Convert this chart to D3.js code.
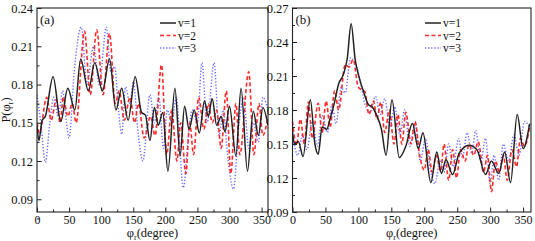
<!DOCTYPE html>
<html>
<head>
<meta charset="utf-8">
<script src="https://cdn.jsdelivr.net/npm/d3@7"></script>
<style>
  html, body { margin: 0; padding: 0; background: #fff; }
  svg { display: block; }
  svg text { font-family: "Liberation Serif", "Times New Roman", serif; fill: #111; }
</style>
</head>
<body>
<div id="chart"></div>
<script>
// panel (a): [angle, P]
const a_v1 = [[0,0.148],[3,0.136],[8,0.152],[13,0.155],[25,0.186],[37,0.151],[48,0.177],[59,0.160],[68,0.200],[80,0.175],[90,0.197],[102,0.175],[113,0.200],[123,0.160],[132,0.177],[142,0.152],[153,0.186],[163,0.158],[169,0.156],[176,0.136],[183,0.162],[189,0.148],[196,0.158],[204,0.112],[215,0.177],[223,0.124],[230,0.163],[237,0.145],[245,0.160],[253,0.142],[261,0.167],[267,0.155],[273,0.169],[280,0.148],[287,0.155],[293,0.143],[300,0.163],[310,0.124],[318,0.177],[328,0.112],[337,0.159],[345,0.140],[352,0.162],[360,0.148]];
const a_v2 = [[0,0.150],[4,0.142],[15,0.170],[22,0.152],[30,0.168],[36,0.150],[41,0.170],[48,0.155],[55,0.165],[61,0.150],[74,0.222],[83,0.172],[93,0.223],[103,0.172],[113,0.220],[122,0.165],[128,0.175],[136,0.152],[145,0.170],[152,0.150],[158,0.165],[167,0.138],[177,0.155],[184,0.140],[194,0.1955],[202,0.125],[210,0.160],[218,0.120],[224,0.150],[232,0.110],[238,0.150],[244,0.125],[252,0.170],[260,0.145],[267,0.165],[273,0.150],[280,0.160],[287,0.130],[295,0.175],[302,0.110],[310,0.165],[316,0.125],[330,0.190],[338,0.125],[346,0.165],[352,0.140],[360,0.155]];
const a_v3 = [[0,0.172],[6,0.150],[13,0.119],[20,0.150],[26,0.170],[33,0.155],[40,0.175],[46,0.150],[50,0.138],[58,0.190],[69,0.225],[78,0.180],[88,0.210],[97,0.180],[108,0.225],[115,0.190],[121,0.194],[127,0.160],[132,0.141],[138,0.178],[145,0.165],[150,0.182],[158,0.140],[165,0.120],[176,0.172],[183,0.150],[190,0.170],[197,0.130],[203,0.160],[210,0.150],[217,0.170],[228,0.099],[236,0.140],[242,0.160],[250,0.150],[257,0.197],[265,0.150],[276,0.197],[284,0.140],[290,0.160],[298,0.120],[306,0.098],[315,0.150],[322,0.170],[330,0.130],[337,0.150],[345,0.135],[352,0.170],[360,0.160]];

// panel (b)
const b_v1 = [[0,0.160],[3,0.150],[9,0.152],[16,0.139],[27,0.189],[34,0.150],[39,0.141],[45,0.165],[52,0.163],[57,0.172],[63,0.185],[70,0.203],[77,0.211],[83,0.225],[89,0.256],[95,0.225],[101,0.209],[108,0.196],[115,0.185],[122,0.182],[128,0.175],[135,0.163],[142,0.140],[151,0.189],[162,0.138],[172,0.148],[182,0.168],[191,0.146],[198,0.160],[210,0.116],[219,0.143],[226,0.124],[233,0.136],[243,0.123],[253,0.142],[268,0.149],[280,0.145],[293,0.123],[302,0.135],[313,0.124],[322,0.143],[331,0.116],[341,0.176],[350,0.146],[360,0.168]];
const b_v2 = [[0,0.170],[6,0.149],[12,0.172],[18,0.150],[24,0.187],[30,0.155],[39,0.186],[45,0.160],[51,0.188],[57,0.165],[64,0.197],[70,0.180],[80,0.220],[86,0.218],[92,0.2245],[100,0.200],[110,0.196],[116,0.176],[123,0.188],[128,0.172],[134,0.187],[140,0.160],[147,0.180],[154,0.150],[160,0.176],[166,0.150],[172,0.178],[180,0.150],[186,0.170],[193,0.140],[200,0.127],[206,0.145],[212,0.125],[218,0.140],[225,0.126],[230,0.150],[237,0.118],[243,0.145],[249,0.120],[255,0.145],[262,0.135],[268,0.150],[275,0.140],[282,0.152],[290,0.125],[296,0.140],[302,0.108],[308,0.135],[314,0.125],[320,0.140],[326,0.118],[333,0.145],[340,0.130],[346,0.155],[352,0.148],[360,0.165]];
const b_v3 = [[0,0.160],[8,0.140],[15,0.158],[22,0.145],[30,0.170],[38,0.148],[45,0.175],[53,0.160],[60,0.185],[66,0.168],[74,0.200],[80,0.195],[88,0.226],[95,0.222],[103,0.205],[110,0.185],[118,0.178],[126,0.192],[133,0.176],[140,0.190],[148,0.165],[155,0.183],[163,0.158],[170,0.180],[178,0.148],[186,0.168],[194,0.135],[202,0.155],[210,0.125],[216,0.115],[224,0.135],[230,0.125],[237,0.150],[244,0.130],[252,0.155],[258,0.138],[265,0.160],[272,0.142],[278,0.162],[286,0.135],[293,0.155],[300,0.115],[306,0.140],[313,0.118],[320,0.150],[328,0.135],[336,0.158],[344,0.140],[352,0.170],[360,0.165]];

const xTicks = [0, 50, 100, 150, 200, 250, 300, 350];
const aYTicks = [0.09, 0.12, 0.15, 0.18, 0.21, 0.24];
const bYTicks = [0.09, 0.12, 0.15, 0.18, 0.21, 0.24, 0.27];
const legendLabels = ["v=1", "v=2", "v=3"];

const W = 535, H = 241;
const styles = [
    { color: "#222", width: 1.5, dash: null },
    { color: "#ff2a2a", width: 1.6, dash: "4,2.5" },
    { color: "#6b6bff", width: 1.4, dash: "1.3,1.8" }
];

const svg = d3.select("#chart").append("svg")
    .attr("width", W)
    .attr("height", H);

function panel(opt) {
    const x = d3.scaleLinear().domain(opt.xDomain).range([opt.left, opt.right]);
    const y = d3.scaleLinear().domain(opt.yDomain).range([opt.bottom, opt.top]);

    const g = svg.append("g");

    const clipId = "clip-" + opt.key;
    svg.append("clipPath").attr("id", clipId)
        .append("rect")
        .attr("x", opt.left).attr("y", opt.top)
        .attr("width", opt.right - opt.left).attr("height", opt.bottom - opt.top);

    const line = d3.line()
        .x(d => x(d[0]))
        .y(d => y(d[1]))
        .curve(d3.curveMonotoneX);

    // v=3 first, black ends up on top
    [2, 1, 0].forEach(i => {
        g.append("path")
            .datum(opt.series[i])
            .attr("clip-path", `url(#${clipId})`)
            .attr("fill", "none")
            .attr("stroke", styles[i].color)
            .attr("stroke-width", styles[i].width)
            .attr("stroke-dasharray", styles[i].dash)
            .attr("d", line);
    });

    // inward ticks, majors + minors
    const yMinor = [];
    for (let i = 0; i < opt.yTicks.length - 1; i++) yMinor.push((opt.yTicks[i] + opt.yTicks[i + 1]) / 2);
    if (opt.yDomain[0] < opt.yTicks[0]) yMinor.push(opt.yTicks[0] - 0.015);
    const xMinor = xTicks.map(t => t + 25).filter(t => t < opt.xDomain[1]);

    g.append("g")
        .attr("transform", `translate(0,${opt.bottom})`)
        .call(d3.axisBottom(x).tickValues(xMinor).tickSize(-2.5).tickFormat(""))
        .call(s => s.select(".domain").remove());
    g.append("g")
        .attr("transform", `translate(0,${opt.bottom})`)
        .call(d3.axisBottom(x).tickValues(xTicks).tickSize(-4.5).tickPadding(3).tickFormat(d3.format("d")))
        .call(s => s.select(".domain").remove())
        .selectAll("text")
        .attr("font-size", 12);

    g.append("g")
        .attr("transform", `translate(${opt.left},0)`)
        .call(d3.axisLeft(y).tickValues(yMinor).tickSize(-2.5).tickFormat(""))
        .call(s => s.select(".domain").remove());
    g.append("g")
        .attr("transform", `translate(${opt.left},0)`)
        .call(d3.axisLeft(y).tickValues(opt.yTicks).tickSize(-4.5).tickPadding(4).tickFormat(d3.format(".2f")))
        .call(s => s.select(".domain").remove())
        .selectAll("text")
        .attr("font-size", 12.5);

    g.selectAll("g").attr("font-family", null);
    g.selectAll(".tick line").attr("stroke", "#222");

    g.append("rect")
        .attr("x", opt.left).attr("y", opt.top)
        .attr("width", opt.right - opt.left).attr("height", opt.bottom - opt.top)
        .attr("fill", "none").attr("stroke", "#222").attr("stroke-width", 1.1);

    g.append("text")
        .attr("x", opt.left + 3).attr("y", opt.top + 16)
        .attr("font-size", 13)
        .text(opt.name);

    // legend
    legendLabels.forEach((lab, i) => {
        const ly = opt.top + 15 + i * 12.5;
        g.append("line")
            .attr("x1", opt.legendX).attr("x2", opt.legendX + 16)
            .attr("y1", ly).attr("y2", ly)
            .attr("stroke", styles[i].color)
            .attr("stroke-width", styles[i].width)
            .attr("stroke-dasharray", styles[i].dash);
        g.append("text")
            .attr("x", opt.legendX + 18).attr("y", ly + 4)
            .attr("font-size", 11.5)
            .text(lab);
    });

    // x label: φr(degree)
    const xl = g.append("text")
        .attr("x", (opt.left + opt.right) / 2)
        .attr("y", H - 4)
        .attr("text-anchor", "middle")
        .attr("font-size", 12.5);
    xl.append("tspan").text("\u03c6");
    xl.append("tspan").attr("font-size", 8).attr("dy", 2.5).text("r");
    xl.append("tspan").attr("dy", -2.5).text("(degree)");
}

panel({
    key: "a", name: "(a)",
    left: 37, right: 268, top: 8, bottom: 212,
    xDomain: [0, 360], yDomain: [0.08, 0.24],
    yTicks: aYTicks,
    series: [a_v1, a_v2, a_v3],
    legendX: 160
});

panel({
    key: "b", name: "(b)",
    left: 292.5, right: 531, top: 8, bottom: 212,
    xDomain: [0, 362], yDomain: [0.09, 0.27],
    yTicks: bYTicks,
    series: [b_v1, b_v2, b_v3],
    legendX: 425
});

// y label P(φr), rotated
const yl = svg.append("text")
    .attr("transform", "translate(10,110) rotate(-90)")
    .attr("text-anchor", "middle")
    .attr("font-size", 12.5);
yl.append("tspan").text("P(\u03c6");
yl.append("tspan").attr("font-size", 8).attr("dy", 3).text("r");
yl.append("tspan").attr("dy", -3).text(")");
</script>
</body>
</html>
